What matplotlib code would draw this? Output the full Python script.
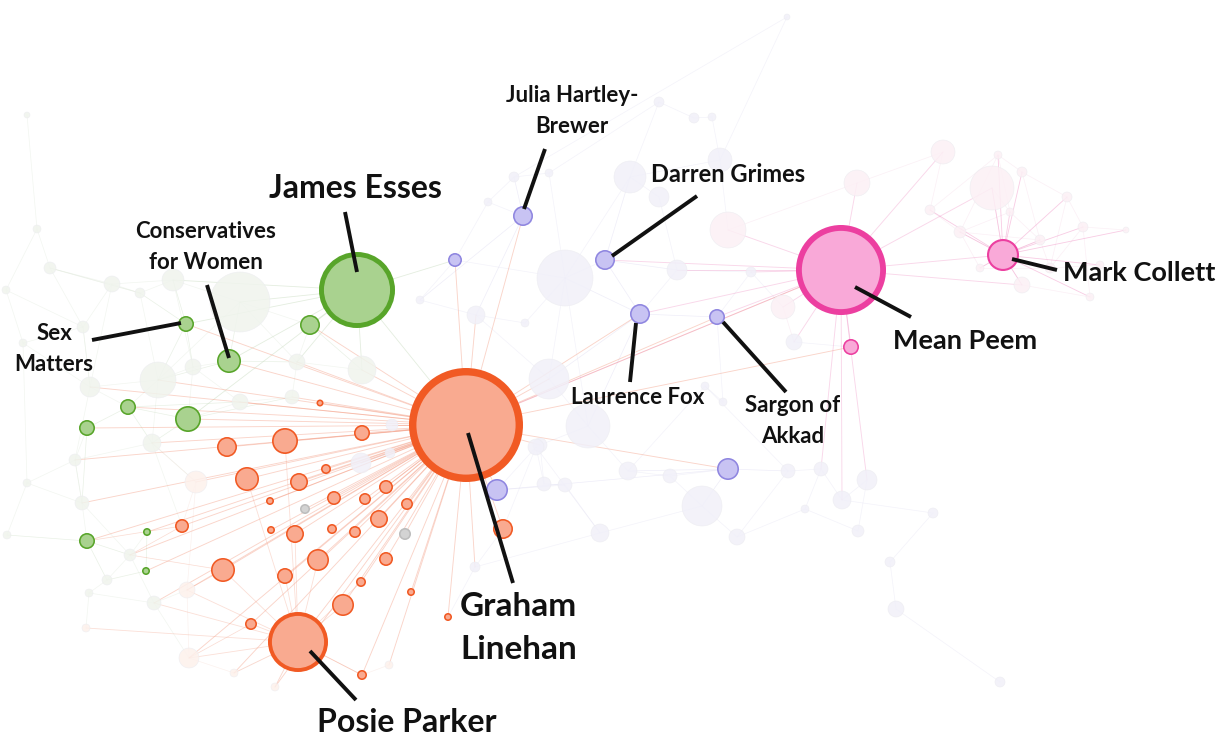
import matplotlib.pyplot as plt
from matplotlib.patches import Circle

plt.rcParams['font.family'] = ['Lato', 'DejaVu Sans']

# ---- nodes (picture pixel coordinates, radius in pixels) ----
node_x = [466, 298, 357, 229, 186, 841, 1003, 523, 605, 640, 717, 455, 728, 497, 851,
          310, 128, 188, 87, 87, 147, 146,
          320, 362, 285, 227, 247, 299, 326, 386, 270, 334, 365, 407, 305, 379, 182, 271,
          295, 332, 355, 405, 503, 223, 318, 285, 386, 361, 411, 343, 251, 448, 362,
          27, 37, 50, 112, 173, 240, 6, 83, 23, 140, 158, 193, 90, 297, 362, 240, 292, 152,
          75, 196, 82, 27, 7, 130, 107, 187, 154, 89, 86, 189, 234, 275, 389, 475, 392, 361,
          390, 536, 514, 549, 488, 565, 476, 525, 420, 787, 659, 694, 712, 630, 659, 720,
          857, 943, 992, 998, 1022, 1067, 1083, 1022, 1090, 1126, 728, 677, 783, 794, 751,
          549, 588, 540, 628, 670, 544, 565, 702, 600, 737, 788, 821, 842, 867, 858, 933,
          805, 890, 896, 1000, 705, 723, 960, 1040, 980, 1050, 1010, 930, 1100]
node_y = [425, 642, 290, 361, 324, 270, 255, 216, 260, 314, 317, 260, 469, 490, 347,
          325, 407, 419, 428, 541, 532, 571,
          403, 433, 441, 447, 479, 482, 469, 487, 501, 498, 499, 504, 509, 519, 526, 530,
          534, 529, 532, 534, 529, 570, 560, 576, 559, 582, 592, 605, 624, 617, 675,
          115, 229, 268, 284, 280, 302, 290, 327, 343, 293, 380, 367, 387, 362, 370, 402, 397, 443,
          460, 482, 503, 483, 535, 555, 580, 590, 603, 593, 628, 658, 673, 687, 665, 567, 425, 463,
          453, 447, 177, 173, 202, 278, 315, 323, 300, 17, 102, 118, 117, 177, 197, 160,
          183, 152, 188, 155, 172, 197, 227, 285, 297, 230, 230, 270, 307, 342, 272,
          379, 426, 445, 471, 476, 484, 485, 506, 533, 537, 471, 469, 500, 480, 531, 513,
          509, 562, 609, 682, 386, 402, 232, 240, 268, 268, 212, 210, 265]
node_r = [57, 30, 38, 12, 8, 45, 16, 10, 10, 10, 8, 7, 11, 11, 8,
          10, 8, 13, 8, 8, 4, 4,
          3.5, 8, 13, 10, 12, 9, 5, 7, 4, 7, 6, 6, 5, 9, 7, 4,
          9, 5, 6, 6, 10, 12, 11, 8, 7, 5, 4, 11, 6, 4, 5,
          3, 4, 6, 8, 11, 30, 4, 6, 4, 5, 18, 8, 10, 8, 14, 8, 7, 9,
          6, 11, 7, 4, 4, 6, 5, 8, 7, 4, 4, 10, 4, 4, 4, 5, 6, 10,
          5, 8, 5, 4, 4, 28, 9, 4, 4, 3, 5, 5, 4, 16, 10, 12,
          13, 12, 22, 4, 5, 5, 5, 8, 4, 3, 18, 10, 12, 8, 5,
          20, 22, 7, 9, 7, 7, 7, 20, 9, 8, 7, 7, 9, 10, 6, 5,
          4, 5, 8, 5, 4, 4, 6, 5, 4, 5, 4, 5, 4]
node_group = ['o', 'o', 'g', 'g', 'g', 'm', 'm', 'p', 'p', 'p', 'p', 'p', 'p', 'p', 'm',
              'g', 'g', 'g', 'g', 'g', 'g', 'g',
              'o', 'o', 'o', 'o', 'o', 'o', 'o', 'o', 'o', 'o', 'o', 'o', 'x', 'o', 'o', 'o',
              'o', 'o', 'o', 'x', 'o', 'o', 'o', 'o', 'o', 'o', 'o', 'o', 'o', 'o', 'o',
              'fg', 'fg', 'fg', 'fg', 'fg', 'fg', 'fg', 'fg', 'fg', 'fg', 'fg', 'fg', 'fg', 'fg',
              'fg', 'fg', 'fg', 'fg',
              'fg', 'fo', 'fg', 'fg', 'fg', 'fg', 'fg', 'fo', 'fg', 'fg', 'fo', 'fo', 'fo', 'fo',
              'fo', 'fp', 'fp', 'fp',
              'fp', 'fp', 'fp', 'fp', 'fp', 'fp', 'fp', 'fp', 'fp', 'fp', 'fp', 'fp', 'fp', 'fp',
              'fp', 'fp',
              'fm', 'fm', 'fm', 'fm', 'fm', 'fm', 'fm', 'fm', 'fm', 'fm', 'fm', 'fp', 'fm', 'fp', 'fp',
              'fp', 'fp', 'fp', 'fp', 'fp', 'fp', 'fp', 'fp', 'fp', 'fp', 'fp', 'fp', 'fp', 'fp',
              'fp', 'fp',
              'fp', 'fp', 'fp', 'fp', 'fp', 'fp', 'fm', 'fm', 'fm', 'fm', 'fm', 'fm', 'fm']

# ---- links ----
linehan_links = list(range(22, 53)) + [1, 3, 4, 15, 16, 17, 18, 19, 20, 21, 11, 13, 7, 9, 10,
                                       5, 14, 12, 72, 78, 82, 83, 84, 85, 86, 87, 88, 89, 122,
                                       120, 95, 66, 67, 69, 68, 70, 73, 76, 63, 65, 71, 79]
posie_links = [43, 44, 45, 49, 50, 26, 24, 38, 47, 52, 81, 82, 83, 84, 78, 79]
peem_links = [0, 9, 10, 14, 115, 116, 117, 118, 119, 106, 107, 112, 6, 131, 132, 133, 105, 8]
collett_links = [107, 108, 109, 110, 111, 112, 113, 142, 143, 144, 145, 146, 147, 148, 114]
esses_links = [15, 3, 4, 58, 67, 66, 57, 17, 11, 0]
mesh_links = [(53, 54), (54, 55), (55, 56), (56, 57), (57, 58), (54, 59), (59, 60), (60, 61),
              (55, 60), (56, 62), (62, 63), (60, 65), (65, 63), (63, 64), (64, 3), (4, 57),
              (4, 62), (4, 63), (3, 66), (66, 15), (58, 15), (63, 70), (70, 71), (71, 18),
              (18, 16), (16, 17), (17, 70), (65, 71), (73, 74), (74, 75), (73, 19), (19, 76),
              (76, 20), (20, 21), (21, 77), (77, 80), (80, 81), (79, 78), (78, 82), (82, 83),
              (83, 1), (76, 79), (73, 71), (19, 75), (61, 74), (65, 16), (16, 68), (68, 17),
              (17, 69), (69, 66), (64, 68), (72, 36), (72, 70), (36, 19), (43, 78), (43, 76),
              (50, 82), (84, 1), (85, 52), (52, 1), (86, 42), (86, 51), (89, 88), (56, 65),
              (57, 64), (58, 63), (62, 55), (3, 58), (18, 73), (70, 36), (56, 60), (57, 62),
              (55, 62), (61, 65), (59, 61), (63, 16), (64, 17), (4, 64), (3, 63), (58, 66),
              (66, 67), (15, 67), (69, 68), (16, 70), (71, 73), (73, 76), (19, 77), (76, 77),
              (79, 82), (36, 76), (72, 78), (70, 72), (65, 60), (74, 71), (80, 79),
              (91, 92), (91, 93), (93, 7), (7, 91), (92, 94), (94, 8), (8, 102), (102, 103),
              (103, 116), (116, 119), (119, 10), (10, 9), (9, 94), (94, 11), (7, 95), (95, 96),
              (96, 94), (95, 120), (120, 121), (121, 122), (122, 125), (125, 126), (126, 13),
              (121, 123), (123, 124), (124, 127), (127, 128), (127, 129), (129, 136),
              (136, 134), (134, 133), (133, 132), (132, 131), (131, 130), (130, 140),
              (140, 141), (141, 10), (12, 127), (12, 123), (12, 130), (132, 135), (135, 137),
              (137, 138), (138, 139), (128, 86), (128, 90), (90, 13), (99, 100), (100, 101),
              (101, 104), (104, 102), (99, 102), (98, 104), (98, 91), (104, 115), (115, 105),
              (105, 106), (117, 118), (118, 14), (119, 117), (9, 120), (9, 121), (8, 116),
              (92, 99), (93, 11), (12, 13), (90, 42), (97, 11), (97, 95), (7, 97),
              (94, 120), (94, 121), (8, 9), (116, 9), (102, 94), (124, 12), (123, 140),
              (126, 128), (125, 90), (122, 90), (129, 130), (131, 136),
              (142, 143), (142, 144), (143, 145), (144, 6), (145, 148), (146, 108), (108, 109),
              (109, 110), (110, 111), (111, 113), (113, 112), (112, 6), (147, 142), (147, 106),
              (146, 107), (142, 146), (143, 109), (111, 145), (114, 111), (144, 145), (147, 108),
              (142, 6), (143, 6), (145, 6), (146, 143), (108, 142), (110, 145), (107, 6)]

# ---- labels ----
label_text = ['James Esses', 'Graham\nLinehan', 'Posie Parker', 'Conservatives\nfor Women',
              'Sex\nMatters', 'Julia Hartley-\nBrewer', 'Darren Grimes', 'Laurence Fox',
              'Sargon of\nAkkad', 'Mean Peem', 'Mark Collett']
label_x = [355, 460, 407, 206, 54, 572, 728, 638, 793, 965, 1139]
label_y = [188, 628, 723, 247, 349, 111, 174, 398, 421, 341, 273]
label_size = [23, 24, 23, 16, 16, 16, 17, 16, 16, 19.5, 19.5]
label_ha = ['center', 'left', 'center', 'center', 'center', 'center', 'center', 'center',
            'center', 'center', 'center']
# leader lines: label end -> node end
lead_x0 = [345, 513, 356, 207, 92, 545, 697, 630, 786, 911, 1057]
lead_y0 = [212, 583, 700, 285, 340, 149, 196, 382, 392, 317, 270]
lead_x1 = [357, 468, 310, 229, 181, 524, 612, 636, 723, 855, 1012]
lead_y1 = [272, 433, 651, 358, 323, 209, 256, 323, 322, 287, 259]

fill = {'o': '#f9aa90', 'g': '#a9d28f', 'p': '#c8c3f3', 'm': '#f9a9d8', 'x': '#d3d3d3',
        'fg': '#f0f4ed', 'fp': '#f1f0f9', 'fm': '#fcf0f5', 'fo': '#fdf1ec'}
stroke = {'o': '#f15a24', 'g': '#58a52a', 'p': '#8f86e0', 'm': '#ec3fa0', 'x': '#bdbdbd'}
link_col = {'o': '#f4a48c', 'g': '#c9dcc0', 'p': '#d6d3ee', 'm': '#f2b3d6', 'x': '#dddddd',
            'fg': '#dfe8da', 'fp': '#e2e0f2', 'fm': '#f6d8e7', 'fo': '#f6ddd5'}

fig = plt.figure(figsize=(12.29, 7.38), dpi=100)
ax = fig.add_axes([0, 0, 1, 1])
ax.set_xlim(0, 1229)
ax.set_ylim(738, 0)
ax.axis('off')


def link(a, b, color, alpha, lw):
    ax.plot([node_x[a], node_x[b]], [node_y[a], node_y[b]], color=color, alpha=alpha,
            lw=lw, zorder=1, solid_capstyle='round')


for a, b in mesh_links:
    link(a, b, link_col[node_group[a]], 0.4, 0.5)
for j in esses_links:
    link(2, j, '#c9dcc0', 0.5, 0.6)
for j in linehan_links:
    link(0, j, '#f39479', 0.4, 0.65)
for j in posie_links:
    link(1, j, '#f4a48c', 0.35, 0.6)
for j in peem_links:
    link(5, j, '#ef8cc2', 0.35, 0.65)
for j in collett_links:
    link(6, j, '#ee7fbb', 0.4, 0.6)

order = sorted(range(len(node_x)), key=lambda i: (node_group[i] in stroke, node_r[i]))
for i in order:
    g = node_group[i]
    r = node_r[i]
    if g in stroke:
        lw_px = max(1.6, r * 0.13)
        ax.add_patch(Circle((node_x[i], node_y[i]), r - lw_px / 2, facecolor=fill[g],
                            edgecolor=stroke[g], lw=lw_px * 0.72, zorder=3))
    else:
        ax.add_patch(Circle((node_x[i], node_y[i]), r, facecolor=fill[g],
                            edgecolor='#ececf0', lw=0.4, alpha=0.85, zorder=2))

for k in range(len(label_text)):
    ax.plot([lead_x0[k], lead_x1[k]], [lead_y0[k], lead_y1[k]], color='#111111', lw=2.8,
            zorder=4, solid_capstyle='butt')
    ax.text(label_x[k], label_y[k], label_text[k], fontsize=label_size[k], fontweight='bold',
            ha=label_ha[k], va='center', multialignment=label_ha[k], linespacing=1.6,
            color='#111111', zorder=5)

fig.savefig('out.png', dpi=100)
